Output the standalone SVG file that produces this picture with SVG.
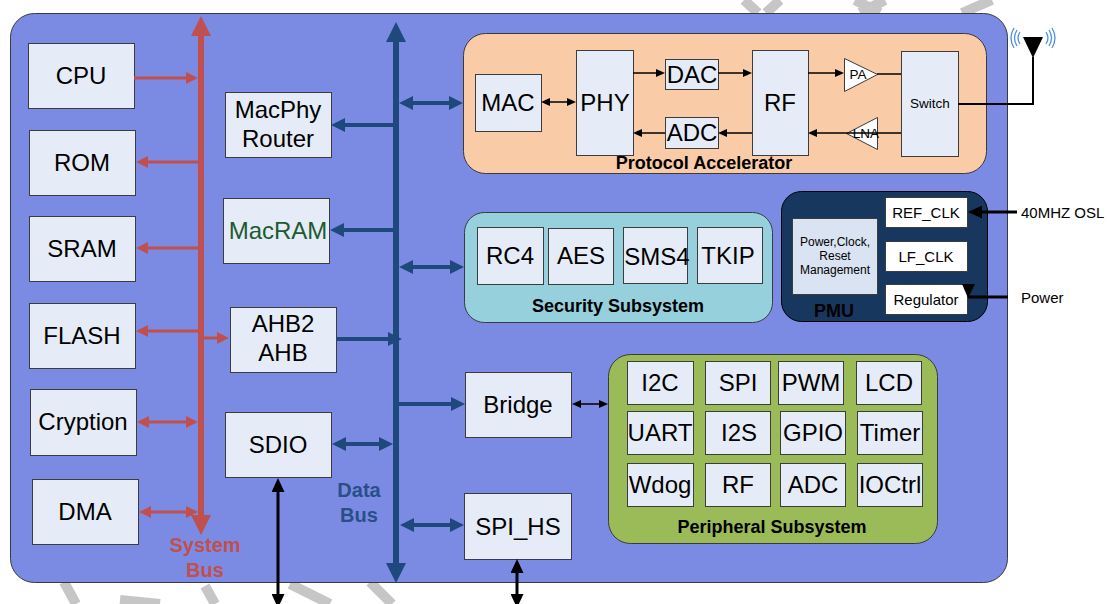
<svg xmlns="http://www.w3.org/2000/svg" width="1107" height="604" viewBox="0 0 1107 604">
<style>
text{font-family:"Liberation Sans",Arial,sans-serif;fill:#000}
.b rect,rect.b{fill:#e6ecf7;stroke:#3c3c3c;stroke-width:1}
.t24{font-size:24px;text-anchor:middle}
.t15{font-size:15px;text-anchor:middle}
.t13{font-size:13.5px;text-anchor:middle}
.t12{font-size:12px;text-anchor:middle}
.hb{font-size:18px;font-weight:bold;text-anchor:middle}
.red{stroke:#c0504d;stroke-width:3;fill:none}
.blue{stroke:#1f497d;stroke-width:4;fill:none}
.blk{stroke:#000;stroke-width:1.5;fill:none}
.blk3{stroke:#000;stroke-width:3;fill:none}
.wm{stroke:#c6c6c6;stroke-width:10;fill:none;stroke-linecap:butt}
.wave{stroke:#4a8fe0;stroke-width:1.3;fill:none}
</style>
<defs>
<marker id="arR" markerUnits="userSpaceOnUse" markerWidth="12" markerHeight="12" refX="2" refY="6" orient="auto-start-reverse"><path d="M0,0 L12,6 L0,12 z" fill="#c0504d"/></marker>
<marker id="arB" markerUnits="userSpaceOnUse" markerWidth="14" markerHeight="14" refX="2" refY="7" orient="auto-start-reverse"><path d="M0,0 L14,7 L0,14 z" fill="#1f497d"/></marker>
<marker id="arK" markerUnits="userSpaceOnUse" markerWidth="9" markerHeight="8" refX="2" refY="4" orient="auto-start-reverse"><path d="M0,0 L9,4 L0,8 z" fill="#000"/></marker>
<marker id="arK3" markerUnits="userSpaceOnUse" markerWidth="14" markerHeight="13" refX="2" refY="6.5" orient="auto-start-reverse"><path d="M0,0 L14,6.5 L0,13 z" fill="#000"/></marker>
<marker id="arSys" markerUnits="userSpaceOnUse" markerWidth="20" markerHeight="20" refX="3" refY="10" orient="auto-start-reverse"><path d="M0,0 L20,10 L0,20 z" fill="#c0504d"/></marker>
<marker id="arData" markerUnits="userSpaceOnUse" markerWidth="20" markerHeight="20" refX="3" refY="10" orient="auto-start-reverse"><path d="M0,0 L20,10 L0,20 z" fill="#1f497d"/></marker>
</defs>

<g id="watermark">
<path class="wm" d="M744,0 L758,13 M780,0 L766,13"/>
<path class="wm" d="M855,0 L880,13 M885,0 L860,13"/>
<path class="wm" d="M992,0 L962,13"/>
<path class="wm" d="M64,582 L76,604 M120,600 L160,604 M205,586 L215,604 M290,584 L330,604 M370,582 L392,604"/>
</g>

<g id="chip">
<rect x="10.5" y="13.5" width="997" height="569" rx="24" fill="#7b8be4" stroke="#3a3a3a" stroke-width="1"/>
</g>

<!-- left column -->
<g id="cpu" class="b"><rect x="28.5" y="43.5" width="106" height="65"/><text class="t24" x="81" y="84">CPU</text></g>
<g id="rom" class="b"><rect x="29.5" y="130.5" width="106" height="65"/><text class="t24" x="82" y="171">ROM</text></g>
<g id="sram" class="b"><rect x="29.5" y="216.5" width="106" height="65"/><text class="t24" x="82" y="257">SRAM</text></g>
<g id="flash" class="b"><rect x="29.5" y="303.5" width="106" height="65"/><text class="t24" x="82" y="344">FLASH</text></g>
<g id="cryption" class="b"><rect x="30.5" y="389.5" width="106" height="66"/><text class="t24" x="83" y="430">Cryption</text></g>
<g id="dma" class="b"><rect x="32.5" y="479.5" width="106" height="65"/><text class="t24" x="85" y="520">DMA</text></g>

<!-- middle column -->
<g id="macphy" class="b"><rect x="225.5" y="92.5" width="106" height="65"/><text class="t24" x="278" y="118">MacPhy</text><text class="t24" x="278" y="147">Router</text></g>
<g id="macram" class="b"><rect x="223.5" y="198.5" width="106" height="65"/><text class="t24" x="278" y="239" style="fill:#1d5a30">MacRAM</text></g>
<g id="ahb2ahb" class="b"><rect x="230.5" y="307.5" width="106" height="65"/><text class="t24" x="283" y="332">AHB2</text><text class="t24" x="283" y="361">AHB</text></g>
<g id="sdio" class="b"><rect x="225.5" y="412.5" width="106" height="65"/><text class="t24" x="278" y="453">SDIO</text></g>
<g id="bridge" class="b"><rect x="465.5" y="372.5" width="106" height="65"/><text class="t24" x="518" y="413">Bridge</text></g>
<g id="spi_hs" class="b"><rect x="464.5" y="493.5" width="107" height="66"/><text class="t24" x="518" y="535">SPI_HS</text></g>

<!-- protocol accelerator -->
<g id="protocol">
<rect x="463.5" y="33.5" width="523" height="140" rx="22" fill="#f9cba7" stroke="#3a3a3a"/>
<text class="hb" x="704" y="169">Protocol Accelerator</text>
</g>
<g id="mac" class="b"><rect x="475.5" y="74.5" width="66" height="57"/><text class="t24" x="508" y="111">MAC</text></g>
<g id="phy" class="b"><rect x="576.5" y="50.5" width="57" height="105"/><text class="t24" x="605" y="111">PHY</text></g>
<g id="dac" class="b"><rect x="665.5" y="59.5" width="53" height="30"/><text class="t24" x="692" y="83">DAC</text></g>
<g id="adc1" class="b"><rect x="665.5" y="117.5" width="53" height="31"/><text class="t24" x="692" y="141">ADC</text></g>
<g id="rf1" class="b"><rect x="752.5" y="50.5" width="56" height="105"/><text class="t24" x="780" y="111">RF</text></g>
<g id="pa"><polygon points="844.5,58.5 877.5,74.5 844.5,91.5" fill="#fff" stroke="#3c3c3c"/><text class="t13" x="858" y="79">PA</text></g>
<g id="lna"><polygon points="877.5,117.5 846.5,133.5 877.5,149.5" fill="#fff" stroke="#3c3c3c"/><text class="t13" x="866" y="138">LNA</text></g>
<g id="switch" class="b"><rect x="901.5" y="51.5" width="57" height="105"/><text class="t13" x="930" y="108">Switch</text></g>
<g id="antenna">
<polygon points="1023,37 1043,37 1033,58" fill="#000"/>
<path class="wave" d="M1020,32 Q1016,38 1020,44 M1017,30 Q1012,38 1017,46 M1014,28 Q1008,38 1014,48"/>
<path class="wave" d="M1046,32 Q1050,38 1046,44 M1049,30 Q1054,38 1049,46 M1052,28 Q1058,38 1052,48"/>
</g>

<!-- security -->
<g id="security">
<rect x="464.5" y="212.5" width="308" height="110" rx="20" fill="#95d0dc" stroke="#3a3a3a"/>
<text class="hb" x="618" y="312">Security Subsystem</text>
</g>
<g id="rc4" class="b"><rect x="477.5" y="227.5" width="66" height="57"/><text class="t24" x="510" y="264">RC4</text></g>
<g id="aes" class="b"><rect x="548.5" y="228.5" width="65" height="56"/><text class="t24" x="581" y="264">AES</text></g>
<g id="sms4" class="b"><rect x="623.5" y="227.5" width="64" height="56"/><text class="t24" x="657" y="265">SMS4</text></g>
<g id="tkip" class="b"><rect x="697.5" y="227.5" width="65" height="56"/><text class="t24" x="728" y="264">TKIP</text></g>

<!-- PMU -->
<g id="pmu">
<rect x="781.5" y="191.5" width="206" height="130" rx="20" fill="#17375e" stroke="#000"/>
<text class="hb" x="834" y="317">PMU</text>
</g>
<g id="pcr"><rect x="792.5" y="218.5" width="85" height="76" fill="#dae3f2" stroke="#3c3c3c"/><text class="t12" x="835" y="246">Power,Clock,</text><text class="t12" x="835" y="260">Reset</text><text class="t12" x="835" y="274">Management</text></g>
<g id="ref_clk"><rect x="885.5" y="197.5" width="82" height="30" fill="#fff" stroke="#3c3c3c"/><text class="t15" x="926" y="218">REF_CLK</text></g>
<g id="lf_clk"><rect x="885.5" y="241.5" width="82" height="30" fill="#fff" stroke="#3c3c3c"/><text class="t15" x="926" y="262">LF_CLK</text></g>
<g id="regulator"><rect x="885.5" y="284.5" width="82" height="30" fill="#fff" stroke="#3c3c3c"/><text class="t15" x="926" y="305">Regulator</text></g>

<!-- peripheral -->
<g id="peripheral">
<rect x="608.5" y="354.5" width="329" height="189" rx="22" fill="#9bbb59" stroke="#3a3a3a"/>
<text class="hb" x="772" y="533">Peripheral Subsystem</text>
</g>
<g id="i2c" class="b"><rect x="627.5" y="361.5" width="66" height="43"/><text class="t24" x="660" y="391">I2C</text></g>
<g id="spi" class="b"><rect x="705.5" y="361.5" width="65" height="43"/><text class="t24" x="738" y="391">SPI</text></g>
<g id="pwm" class="b"><rect x="778.5" y="361.5" width="65" height="43"/><text class="t24" x="811" y="391">PWM</text></g>
<g id="lcd" class="b"><rect x="856.5" y="361.5" width="65" height="43"/><text class="t24" x="889" y="391">LCD</text></g>
<g id="uart" class="b"><rect x="627.5" y="411.5" width="66" height="43"/><text class="t24" x="660" y="441">UART</text></g>
<g id="i2s" class="b"><rect x="705.5" y="411.5" width="65" height="43"/><text class="t24" x="739" y="441">I2S</text></g>
<g id="gpio" class="b"><rect x="780.5" y="411.5" width="65" height="43"/><text class="t24" x="813" y="441">GPIO</text></g>
<g id="timer" class="b"><rect x="857.5" y="411.5" width="65" height="43"/><text class="t24" x="890" y="441">Timer</text></g>
<g id="wdog" class="b"><rect x="627.5" y="463.5" width="66" height="43"/><text class="t24" x="660" y="493">Wdog</text></g>
<g id="rf2" class="b"><rect x="705.5" y="463.5" width="65" height="43"/><text class="t24" x="738" y="493">RF</text></g>
<g id="adc2" class="b"><rect x="780.5" y="463.5" width="65" height="43"/><text class="t24" x="813" y="493">ADC</text></g>
<g id="ioctrl" class="b"><rect x="857.5" y="463.5" width="65" height="43"/><text class="t24" x="890" y="493">IOCtrl</text></g>

<g id="connectors">
<!-- buses -->
<path d="M201,33 L201,518" stroke="#c0504d" stroke-width="6" fill="none" marker-start="url(#arSys)" marker-end="url(#arSys)"/>
<path d="M396,39 L396,566" stroke="#1f497d" stroke-width="6" fill="none" marker-start="url(#arData)" marker-end="url(#arData)"/>
<!-- system bus links -->
<path class="red" d="M134,78 L188,78" marker-end="url(#arR)"/>
<path class="red" d="M198,162 L146,162" marker-end="url(#arR)"/>
<path class="red" d="M198,248 L146,248" marker-end="url(#arR)"/>
<path class="red" d="M198,331 L146,331" marker-end="url(#arR)"/>
<path class="red" d="M204,338 L219,338" marker-end="url(#arR)"/>
<path class="red" d="M147,422 L188,422" marker-start="url(#arR)" marker-end="url(#arR)"/>
<path class="red" d="M149,512 L188,512" marker-start="url(#arR)" marker-end="url(#arR)"/>
<!-- data bus links -->
<path class="blue" d="M393,125 L343,125" marker-end="url(#arB)"/>
<path class="blue" d="M393,230 L342,230" marker-end="url(#arB)"/>
<path class="blue" d="M336,339 L390,339" marker-end="url(#arB)"/>
<path class="blue" d="M344,444 L381,444" marker-start="url(#arB)" marker-end="url(#arB)"/>
<path class="blue" d="M411,103 L451,103" marker-start="url(#arB)" marker-end="url(#arB)"/>
<path class="blue" d="M411,267 L452,267" marker-start="url(#arB)" marker-end="url(#arB)"/>
<path class="blue" d="M399,404 L453,404" marker-end="url(#arB)"/>
<path class="blue" d="M412,525 L452,525" marker-start="url(#arB)" marker-end="url(#arB)"/>
<!-- protocol accelerator internals -->
<path class="blk" d="M548,102 L569,102" marker-start="url(#arK)" marker-end="url(#arK)"/>
<path class="blk" d="M633,73 L658,73" marker-end="url(#arK)"/>
<path class="blk" d="M718,73 L745,73" marker-end="url(#arK)"/>
<path class="blk" d="M808,73 L837,73" marker-end="url(#arK)"/>
<path class="blk" d="M877,74 L901,74"/>
<path class="blk" d="M901,133 L846,133"/>
<path class="blk" d="M846,133 L815,133" marker-end="url(#arK)"/>
<path class="blk" d="M752,133 L725,133" marker-end="url(#arK)"/>
<path class="blk" d="M665,133 L640,133" marker-end="url(#arK)"/>
<path d="M958,104 L1033,104 L1033,57" stroke="#000" stroke-width="2" fill="none"/>
<!-- bridge to peripheral -->
<path class="blk" d="M579,404 L601,404" marker-start="url(#arK)" marker-end="url(#arK)"/>
<!-- external -->
<path class="blk3" d="M278,490 L278,596" marker-start="url(#arK3)" marker-end="url(#arK3)"/>
<path class="blk3" d="M517,571 L517,596" marker-start="url(#arK3)" marker-end="url(#arK3)"/>
<path class="blk3" d="M1017,212 L980,212" marker-end="url(#arK3)"/>
<path class="blk3" d="M1008,297 L968,297"/>
<polygon points="962,284 975,284 968,298" fill="#000"/>
</g>

<g id="labels">
<text x="205" y="552" style="font-size:20px;font-weight:bold;fill:#c0504d;text-anchor:middle">System</text>
<text x="205" y="577" style="font-size:20px;font-weight:bold;fill:#c0504d;text-anchor:middle">Bus</text>
<text x="359" y="497" style="font-size:20px;font-weight:bold;fill:#2a4f88;text-anchor:middle">Data</text>
<text x="359" y="522" style="font-size:20px;font-weight:bold;fill:#2a4f88;text-anchor:middle">Bus</text>
<text x="1021" y="218" style="font-size:15px">40MHZ OSL</text>
<text x="1021" y="303" style="font-size:15px">Power</text>
</g>
</svg>
